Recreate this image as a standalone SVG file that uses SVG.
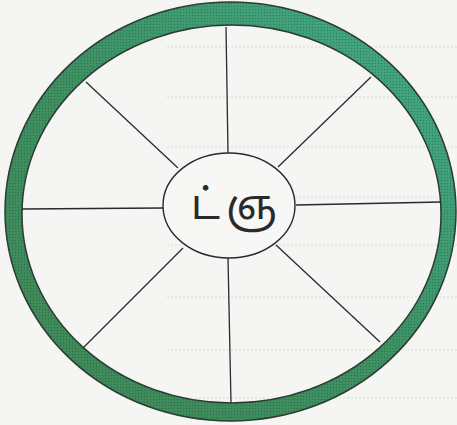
<svg xmlns="http://www.w3.org/2000/svg" width="457" height="425" viewBox="0 0 457 425">
  <defs>
    <linearGradient id="ringGrad" x1="0" y1="1" x2="1" y2="0">
      <stop offset="0" stop-color="#3c8454"/>
      <stop offset="0.5" stop-color="#3a8e60"/>
      <stop offset="1" stop-color="#3faa88"/>
    </linearGradient>
    <pattern id="hatch" width="3" height="3" patternUnits="userSpaceOnUse">
      <rect width="1" height="1" fill="#1f3a2a" opacity="0.3"/>
      <rect x="1.5" y="1.5" width="1" height="1" fill="#ffffff" opacity="0.12"/>
    </pattern>
  </defs>
  <style>
    .spoke { stroke: #2a2a2a; stroke-width: 1.3; fill: none; }
    .guide { stroke: #d9d9d6; stroke-width: 1; stroke-dasharray: 2 2; fill: none; }
    .edge { fill: none; stroke: #2c3d31; stroke-width: 1.5; }
    .label { font-family: "Noto Sans Tamil", "Noto Sans", "DejaVu Sans", sans-serif; font-size: 42px; fill: #2a2a2a; }
  </style>
  <rect width="457" height="425" fill="#f5f5f3"/>
  <g id="guides">
    <line class="guide" x1="167" y1="47" x2="457" y2="47"/>
    <line class="guide" x1="167" y1="97" x2="457" y2="97"/>
    <line class="guide" x1="167" y1="147" x2="457" y2="147"/>
    <line class="guide" x1="167" y1="197" x2="457" y2="197"/>
    <line class="guide" x1="167" y1="245" x2="457" y2="245"/>
    <line class="guide" x1="167" y1="297" x2="457" y2="297"/>
    <line class="guide" x1="167" y1="350" x2="457" y2="350"/>
    <line class="guide" x1="167" y1="398" x2="457" y2="398"/>
  </g>
  <g id="ring">
    <path fill-rule="evenodd" fill="url(#ringGrad)" d="M5,211.5 a225.5,209.5 0 1,0 451,0 a225.5,209.5 0 1,0 -451,0 Z M22,214 a209.5,189 0 1,0 419,0 a209.5,189 0 1,0 -419,0 Z"/>
    <path fill-rule="evenodd" fill="url(#hatch)" d="M5,211.5 a225.5,209.5 0 1,0 451,0 a225.5,209.5 0 1,0 -451,0 Z M22,214 a209.5,189 0 1,0 419,0 a209.5,189 0 1,0 -419,0 Z"/>
    <ellipse class="edge" cx="230.5" cy="211.5" rx="225.5" ry="209.5"/>
    <ellipse class="edge" cx="231.5" cy="214" rx="209.5" ry="189"/>
  </g>
  <g id="connectors">
    <line class="spoke" x1="226" y1="27" x2="228" y2="153"/>
    <line class="spoke" x1="371" y1="77" x2="278" y2="167"/>
    <line class="spoke" x1="296" y1="205" x2="441" y2="202"/>
    <line class="spoke" x1="276" y1="245" x2="380" y2="342"/>
    <line class="spoke" x1="228" y1="258" x2="231" y2="403"/>
    <line class="spoke" x1="183" y1="248" x2="83" y2="348"/>
    <line class="spoke" x1="22" y1="209" x2="163" y2="208"/>
    <line class="spoke" x1="86" y1="82" x2="178" y2="168"/>
  </g>
  <g id="center">
    <ellipse cx="229" cy="205.5" rx="66" ry="52.5" fill="#f7f7f5" stroke="#2a2a2a" stroke-width="1.4"/>
    <text class="label" x="191" y="219">ட்<tspan x="226">ஞ</tspan></text>
  </g>
</svg>
